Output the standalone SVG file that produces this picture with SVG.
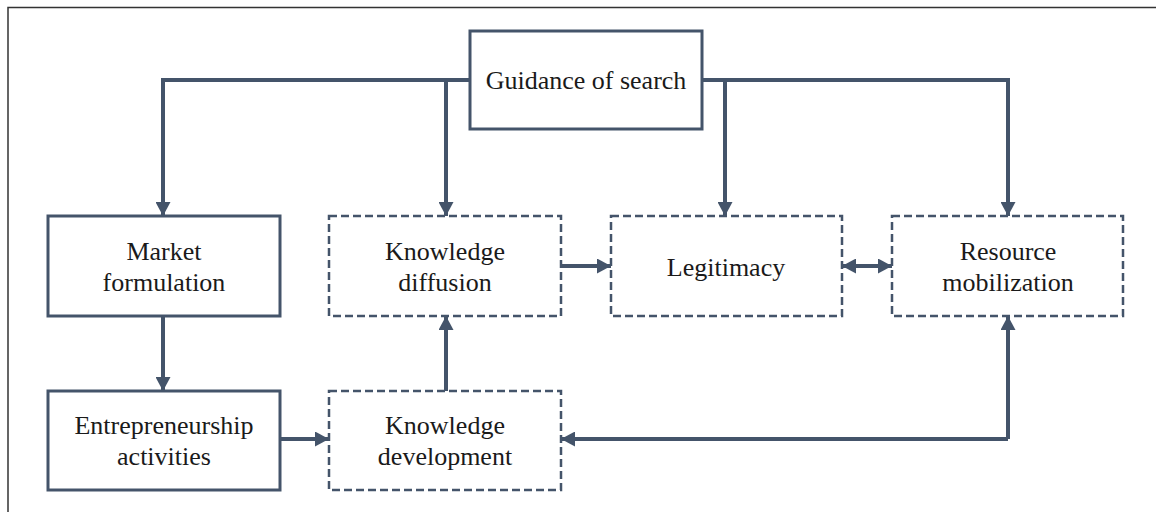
<svg xmlns="http://www.w3.org/2000/svg" width="1156" height="512" viewBox="0 0 1156 512">
<style>
.frame{fill:none;stroke:#333;stroke-width:1.5}
.box{fill:#fff;stroke:#44546A;stroke-width:3}
.dash{fill:#fff;stroke:#44546A;stroke-width:2.5;stroke-dasharray:8 4}
.con{fill:none;stroke:#44546A;stroke-width:4}
text{font-family:"Liberation Serif","Times New Roman",serif;font-size:26px;fill:#1a1a1a;text-anchor:middle}
</style>
<defs>
<marker id="ah" markerUnits="userSpaceOnUse" markerWidth="15" markerHeight="15" refX="14" refY="7.5" orient="auto-start-reverse" viewBox="0 0 15 15">
<path d="M0,0 L14,7.5 L0,15 z" fill="#44546A"/>
</marker>
</defs>
<rect width="1156" height="512" fill="#fff"/>
<path class="frame" d="M8,512 L8,7.5 L1156,7.5"/>
<g id="connectors">
<path class="con" d="M470,80 L163,80 L163,216" marker-end="url(#ah)"/>
<path class="con" d="M446,80 L446,216" marker-end="url(#ah)"/>
<path class="con" d="M702,80 L1008,80 L1008,216" marker-end="url(#ah)"/>
<path class="con" d="M725,80 L725,216" marker-end="url(#ah)"/>
<path class="con" d="M163,316 L163,391" marker-end="url(#ah)"/>
<path class="con" d="M280,439 L329,439" marker-end="url(#ah)"/>
<path class="con" d="M446,391 L446,316" marker-end="url(#ah)"/>
<path class="con" d="M561,266 L611,266" marker-end="url(#ah)"/>
<path class="con" d="M842,266 L892,266" marker-start="url(#ah)" marker-end="url(#ah)"/>
<path class="con" d="M1008,439 L1008,316" marker-end="url(#ah)"/>
<path class="con" d="M1008,439 L561,439" marker-end="url(#ah)"/>
</g>
<g id="guidance">
<rect class="box" x="470" y="31" width="232" height="98"/>
<text x="586" y="89">Guidance of search</text>
</g>
<g id="market">
<rect class="box" x="48" y="216" width="232" height="100"/>
<text x="164" y="260">Market</text>
<text x="164" y="291">formulation</text>
</g>
<g id="kdiff">
<rect class="dash" x="329" y="216" width="232" height="100"/>
<text x="445" y="260">Knowledge</text>
<text x="445" y="291">diffusion</text>
</g>
<g id="legitimacy">
<rect class="dash" x="611" y="216" width="231" height="100"/>
<text x="726" y="276">Legitimacy</text>
</g>
<g id="resource">
<rect class="dash" x="892" y="216" width="231" height="100"/>
<text x="1008" y="260">Resource</text>
<text x="1008" y="291">mobilization</text>
</g>
<g id="entrepreneurship">
<rect class="box" x="48" y="391" width="232" height="99"/>
<text x="164" y="434">Entrepreneurship</text>
<text x="164" y="465">activities</text>
</g>
<g id="kdev">
<rect class="dash" x="329" y="391" width="232" height="99"/>
<text x="445" y="434">Knowledge</text>
<text x="445" y="465">development</text>
</g>
</svg>
